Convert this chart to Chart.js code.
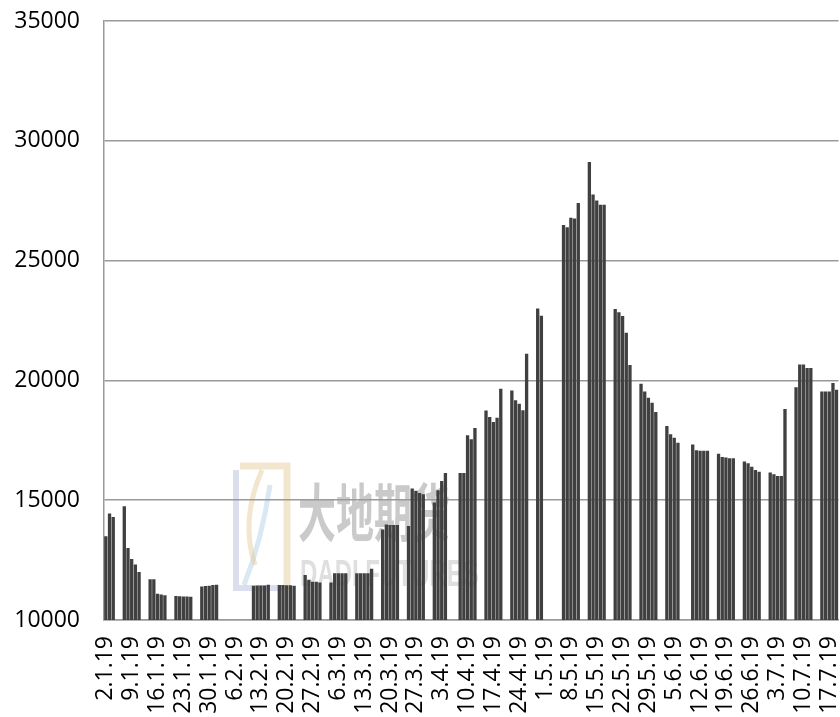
<!DOCTYPE html>
<html><head><meta charset="utf-8">
<script src="https://cdn.jsdelivr.net/npm/chart.js@4/dist/chart.umd.min.js"></script>
<style>html,body{margin:0;padding:0;background:#fff;}canvas{display:block;}</style>
</head><body>
<canvas id="c" width="840" height="717"></canvas>
<script>
// Trading days (d.m.yy) and values
const tradeDates = [
 '2.1.19','3.1.19','4.1.19','7.1.19','8.1.19','9.1.19','10.1.19','11.1.19',
 '14.1.19','15.1.19','16.1.19','17.1.19','18.1.19','21.1.19','22.1.19','23.1.19','24.1.19','25.1.19',
 '28.1.19','29.1.19','30.1.19','31.1.19','1.2.19',
 '11.2.19','12.2.19','13.2.19','14.2.19','15.2.19','18.2.19','19.2.19','20.2.19','21.2.19','22.2.19',
 '25.2.19','26.2.19','27.2.19','28.2.19','1.3.19','4.3.19','5.3.19','6.3.19','7.3.19','8.3.19',
 '11.3.19','12.3.19','13.3.19','14.3.19','15.3.19','18.3.19','19.3.19','20.3.19','21.3.19','22.3.19',
 '25.3.19','26.3.19','27.3.19','28.3.19','29.3.19','1.4.19','2.4.19','3.4.19','4.4.19',
 '8.4.19','9.4.19','10.4.19','11.4.19','12.4.19','15.4.19','16.4.19','17.4.19','18.4.19','19.4.19',
 '22.4.19','23.4.19','24.4.19','25.4.19','26.4.19','29.4.19','30.4.19',
 '6.5.19','7.5.19','8.5.19','9.5.19','10.5.19','13.5.19','14.5.19','15.5.19','16.5.19','17.5.19',
 '20.5.19','21.5.19','22.5.19','23.5.19','24.5.19','27.5.19','28.5.19','29.5.19','30.5.19','31.5.19',
 '3.6.19','4.6.19','5.6.19','6.6.19','10.6.19','11.6.19','12.6.19','13.6.19','14.6.19',
 '17.6.19','18.6.19','19.6.19','20.6.19','21.6.19','24.6.19','25.6.19','26.6.19','27.6.19','28.6.19',
 '1.7.19','2.7.19','3.7.19','4.7.19','5.7.19','8.7.19','9.7.19','10.7.19','11.7.19','12.7.19',
 '15.7.19','16.7.19','17.7.19','18.7.19','19.7.19'
];
const prices = [
 13500,14450,14300,14750,13000,12550,12320,12000,
 11700,11700,11100,11060,11030,11000,10990,10980,10980,10970,
 11400,11420,11430,11460,11470,
 11430,11440,11440,11440,11470,11460,11460,11450,11450,11430,
 11880,11680,11600,11600,11560,11560,11950,11950,11950,11950,
 11950,11950,11950,11950,12140,13780,13990,13960,13960,13960,
 13920,15490,15390,15300,15250,14900,15420,15800,16140,
 16140,16140,17710,17540,18010,18740,18470,18260,18440,19650,
 19580,19170,19030,18750,21110,23000,22700,
 26490,26390,26790,26760,27400,29120,27760,27510,27330,27330,
 22985,22840,22690,21985,20640,19860,19540,19280,19070,18680,
 18100,17750,17610,17400,17320,17080,17060,17060,17060,
 16940,16800,16780,16750,16750,16610,16540,16400,16260,16190,
 16160,16080,16010,16010,18810,19710,20660,20660,20520,20520,
 19540,19540,19540,19890,19610
];
const tickLabels = [
 '2.1.19','9.1.19','16.1.19','23.1.19','30.1.19','6.2.19','13.2.19','20.2.19','27.2.19',
 '6.3.19','13.3.19','20.3.19','27.3.19','3.4.19','10.4.19','17.4.19','24.4.19','1.5.19',
 '8.5.19','15.5.19','22.5.19','29.5.19','5.6.19','12.6.19','19.6.19','26.6.19','3.7.19',
 '10.7.19','17.7.19'
];
const yTicks = [10000,15000,20000,25000,30000,35000];

// calendar axis: every day from first to last trading date
function parseD(s){const p=s.split('.');return new Date(2000+ +p[2], +p[1]-1, +p[0]);}
function fmt(d){return d.getDate()+'.'+(d.getMonth()+1)+'.'+String(d.getFullYear()).slice(2);}
const days=[];
for(let d=parseD(tradeDates[0]); d<=parseD(tradeDates[tradeDates.length-1]); d=new Date(d.getFullYear(),d.getMonth(),d.getDate()+1)) days.push(fmt(d));
const priceMap={}; tradeDates.forEach((t,i)=>priceMap[t]=prices[i]);
const series=days.map(d=>priceMap[d]===undefined?null:priceMap[d]);

const watermark={
 id:'watermark',
 beforeDraw(chart){
  const c=chart.ctx; c.save();
  // logo
  c.lineWidth=6; c.strokeStyle='rgba(175,185,215,0.45)';
  c.beginPath(); c.moveTo(236,470); c.lineTo(236,588); c.lineTo(284,588); c.stroke();
  c.strokeStyle='rgba(180,210,230,0.5)'; c.lineWidth=5;
  c.beginPath(); c.moveTo(270,485); c.quadraticCurveTo(262,540,244,585); c.stroke();
  c.strokeStyle='rgba(230,205,160,0.5)'; c.lineWidth=7;
  c.beginPath(); c.moveTo(240,466); c.lineTo(287,466); c.lineTo(287,590); c.stroke();
  c.lineWidth=5; c.beginPath(); c.moveTo(262,470); c.quadraticCurveTo(240,520,255,565); c.stroke();
  // text
  c.fillStyle='rgba(150,150,150,0.5)';
  c.font='bold 38px "Noto Sans CJK SC"'; c.textBaseline='middle';
  c.translate(298,512); c.scale(1,1.65);
  c.fillText('大地期货',0,0);
  c.restore(); c.save();
  c.fillStyle='rgba(175,175,175,0.4)';
  c.font='bold 24px "Liberation Sans Narrow", "Liberation Sans"'; c.textBaseline='middle';
  c.translate(300,576); c.scale(1,1.5);
  c.fillText('DADI FUTURES',0,0);
  c.restore();
 }
};

new Chart(document.getElementById('c'),{
 type:'bar',
 data:{labels:days,datasets:[{data:series,backgroundColor:'#404040',barPercentage:0.9,categoryPercentage:1}]},
 options:{
  responsive:false, animation:false, devicePixelRatio:1,
  layout:{padding:{top:21,right:1.5,left:0,bottom:0}},
  plugins:{legend:{display:false},tooltip:{enabled:false}},
  scales:{
   x:{
    offset:true,
    grid:{display:false,drawTicks:false},
    border:{display:true,color:'#9a9a9a',width:1.5},
    ticks:{autoSkip:false,minRotation:90,maxRotation:90,padding:16,color:'#000',
      font:{family:'"Open Sans"',size:23},
      callback(v){const l=this.getLabelForValue(v);return tickLabels.includes(l)?l:'';}},
    afterFit(s){s.height=97;s.paddingLeft=0;s.paddingRight=0;}
   },
   y:{
    min:yTicks[0],max:yTicks[yTicks.length-1],
    afterBuildTicks(s){s.ticks=yTicks.map(v=>({value:v}));},
    grid:{color:'#9a9a9a',lineWidth:1.5,drawTicks:false},
    border:{display:true,color:'#9a9a9a',width:1.5},
    ticks:{padding:24,color:'#000',font:{family:'"Open Sans"',size:23},callback:v=>String(v)},
    afterFit(s){s.width=104;s.paddingTop=0;s.paddingBottom=0;}
   }
  }
 },
 plugins:[watermark]
});
</script>
</body></html>
